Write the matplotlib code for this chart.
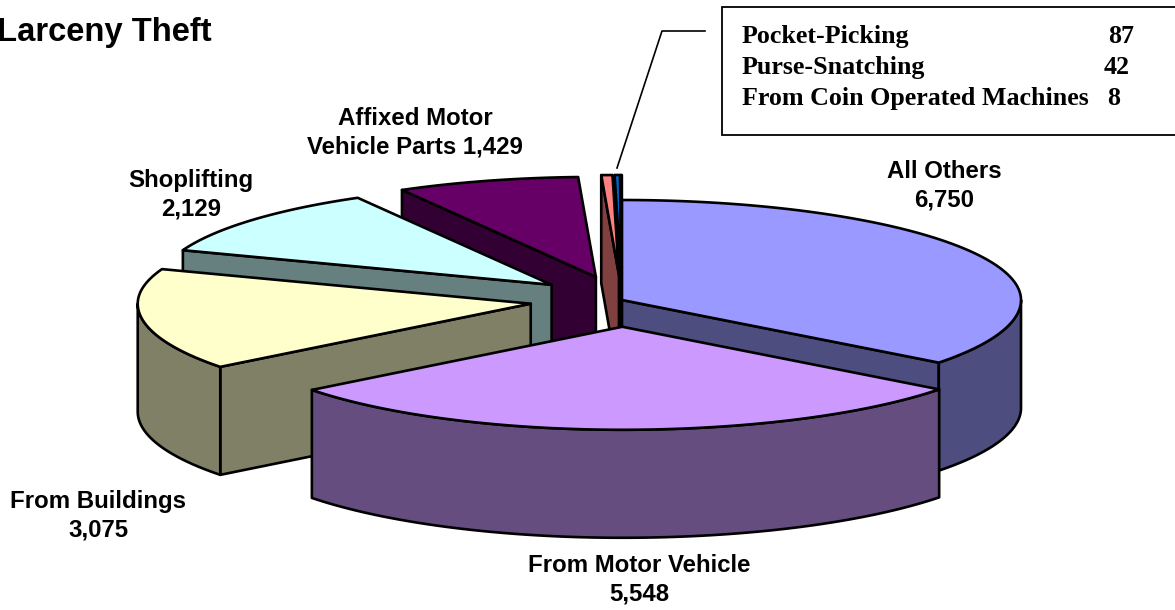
import numpy as np
import matplotlib
matplotlib.use("Agg")
import matplotlib.pyplot as plt
from matplotlib.patches import Polygon, Rectangle

# Slices clockwise from 12 o'clock
categories = ["All Others", "From Motor Vehicle", "From Buildings", "Shoplifting",
              "Affixed Motor Vehicle Parts", "Pocket-Picking", "Purse-Snatching",
              "From Coin Operated Machines"]
values = [6750, 5548, 3075, 2129, 1429, 87, 42, 8]
top_colors = ["#9999FF", "#CC99FF", "#FFFFCC", "#CCFFFF", "#660066", "#FF8080", "#0066CC", "#CCCCFF"]
side_colors = ["#4D4D80", "#664D80", "#808066", "#668080", "#330033", "#804040", "#003366", "#666680"]
explode = [0, 0.26, 0.235, 0.235, 0.24, 0.25, 0.25, 0.25]

# pie geometry, in pixels of the picture
CX, CY = 622, 300
RX_RIGHT, RX_LEFT = 399, 393
RY_BACK, RY_FRONT = 100, 103
H = 108
LW = 1.9

plt.rcParams["font.family"] = ["Liberation Sans", "DejaVu Sans"]

fig = plt.figure(figsize=(11.75, 6.10), dpi=100)
ax = fig.add_axes([0, 0, 1, 1])
ax.set_xlim(0, 1175)
ax.set_ylim(610, 0)
ax.axis("off")


def rim(angle, ox, oy):
    s, c = np.sin(angle), np.cos(angle)
    rx = np.where(s > 0, RX_RIGHT, RX_LEFT)
    ry = np.where(c > 0, RY_BACK, RY_FRONT)
    return ox + rx * s, oy - ry * c


def face(pts, color, z):
    ax.add_patch(Polygon(pts, closed=True, facecolor=color, edgecolor="black",
                         linewidth=LW, joinstyle="round", zorder=z))


def draw_slice(a0, a1, off, top, side, z):
    mx, my = rim((a0 + a1) / 2, 0, 0)
    ox = CX + off * mx
    oy = CY + off * my
    # cut faces, only when they look towards the viewer
    if np.sin(a0) < 0:
        x, y = rim(a0, ox, oy)
        face([(ox, oy), (x, y), (x, y + H), (ox, oy + H)], side, z)
    if np.sin(a1) > 0:
        x, y = rim(a1, ox, oy)
        face([(ox, oy), (x, y), (x, y + H), (ox, oy + H)], side, z)
    # outer wall is the front half of the rim
    lo, hi = max(a0, np.pi / 2), min(a1, 3 * np.pi / 2)
    if hi > lo:
        t = np.linspace(lo, hi, 80)
        x, y = rim(t, ox, oy)
        upper = np.column_stack([x, y])
        lower = np.column_stack([x, y + H])[::-1]
        face(np.vstack([upper, lower]), side, z)
    t = np.linspace(a0, a1, 120)
    x, y = rim(t, ox, oy)
    face(np.vstack([[ox, oy], np.column_stack([x, y])]), top, z + 0.5)


edges = np.concatenate([[0], np.cumsum(values)]) / sum(values) * 2 * np.pi
# painter's order: back of the pie first
order = [7, 6, 5, 4, 3, 0, 2, 1]
for n, i in enumerate(order):
    draw_slice(edges[i], edges[i + 1], explode[i], top_colors[i], side_colors[i], 2 + n)

bold = dict(fontweight="bold", fontsize=17.3, color="black", ha="center", va="center",
            linespacing=1.33, zorder=30)
ax.text(944, 186, "All Others\n6,750", **bold)
ax.text(639, 580, "From Motor Vehicle\n5,548", **bold)
ax.text(98, 516, "From Buildings\n3,075", **bold)
ax.text(191, 195, "Shoplifting\n2,129", **bold)
ax.text(415, 133, "Affixed Motor\nVehicle Parts 1,429", **bold)
ax.text(-3, 33, "Larceny Theft", fontweight="bold", fontsize=23.6, ha="left", va="center", zorder=30)

# small slices call-out
ax.plot([705, 662, 617], [31, 31, 168], color="black", lw=1.2, zorder=30)
ax.add_patch(Rectangle((722, 7), 460, 128, facecolor="white", edgecolor="black", linewidth=1.3, zorder=30))
serif = dict(family="Liberation Serif", fontweight="bold", fontsize=18.7, va="baseline", zorder=31)
box_y = [43, 74, 105]
box_x = [1134, 1130, 1120]
for name, val, y, x in zip(categories[5:], values[5:], box_y, box_x):
    ax.text(742, y, name, ha="left", **serif)
    ax.text(x, y, str(val), ha="right", **serif)

fig.savefig("out.png", dpi=100)
